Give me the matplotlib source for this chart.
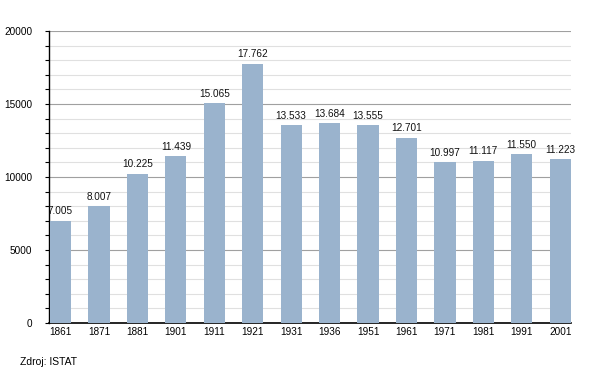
import matplotlib
matplotlib.use("Agg")
import matplotlib.pyplot as plt
from matplotlib.ticker import MultipleLocator

plt.rcParams['font.family'] = ['Liberation Sans', 'DejaVu Sans']

years = ["1861", "1871", "1881", "1901", "1911", "1921", "1931", "1936", "1951", "1961", "1971", "1981", "1991", "2001"]
population = [7005, 8007, 10225, 11439, 15065, 17762, 13533, 13684, 13555, 12701, 10997, 11117, 11550, 11223]
labels = ["7.005", "8.007", "10.225", "11.439", "15.065", "17.762", "13.533", "13.684", "13.555", "12.701", "10.997", "11.117", "11.550", "11.223"]

fig = plt.figure(figsize=(6, 3.73), dpi=100)
ax = fig.add_axes([0.0817, 0.134, 0.870, 0.783])

x = range(len(years))
ax.bar(x, population, width=0.55, color='#9ab3cd', zorder=3)
for xi, v, lab in zip(x, population, labels):
    ax.text(xi, v + 300, lab, ha='center', va='bottom', fontsize=7.2, color='#111111', zorder=4)

ax.set_xlim(-0.3, len(years) - 0.72)
ax.set_ylim(0, 20000)
ax.set_xticks(list(x))
ax.set_xticklabels(years, fontsize=7.2)
ax.yaxis.set_minor_locator(MultipleLocator(1000))
ax.set_yticks(range(0, 20001, 5000))
ax.set_yticklabels(["0", "5000", "10000", "15000", "20000"], fontsize=7.2)
ax.grid(True, which='major', axis='y', color='#a0a0a0', linewidth=0.8, zorder=1)
ax.grid(True, which='minor', axis='y', color='#e0e0e0', linewidth=0.8, zorder=0)
ax.tick_params(axis='x', length=0, pad=3)
ax.tick_params(axis='y', which='both', length=3, width=0.8, direction='out', pad=9)
for s in ['top', 'right']:
    ax.spines[s].set_visible(False)
ax.spines['left'].set_linewidth(1.0)
ax.spines['bottom'].set_linewidth(1.2)

fig.text(20 / 600, 1 - 362 / 373, "Zdroj: ISTAT", fontsize=7.5, va='center', ha='left')

fig.savefig("out.png", dpi=100)
